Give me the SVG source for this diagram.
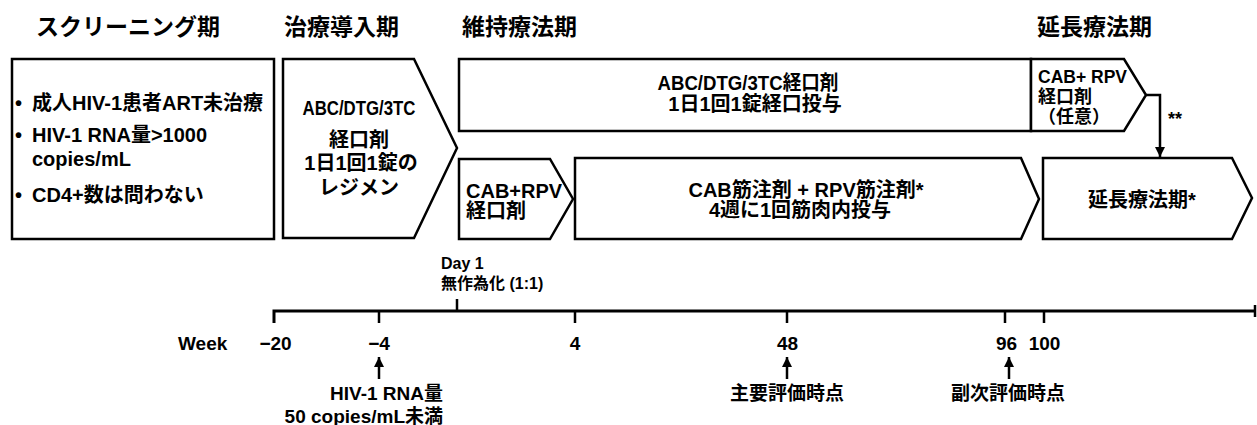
<svg xmlns="http://www.w3.org/2000/svg" width="1257" height="425" viewBox="0 0 1257 425">
<defs>
<style>
.box{fill:#fff;stroke:#000;stroke-width:2.5;stroke-linejoin:miter}
.t{font-family:"Liberation Sans","Noto Sans CJK JP",sans-serif;font-weight:bold;fill:#000}
.h{font-family:"Noto Sans CJK JP","Liberation Sans",sans-serif;font-weight:bold;font-size:23px;fill:#000}
.b20{font-size:20px}
.b18{font-size:18px}
.tl{font-size:19px}
.d{font-size:16px}
.ln{stroke:#000;stroke-width:3;fill:none}
.tk{stroke:#000;stroke-width:2.5;fill:none}
</style>
<marker id="ah" markerWidth="10" markerHeight="10" refX="10" refY="5" orient="auto" markerUnits="userSpaceOnUse" viewBox="0 0 10 10">
<path d="M0,0 L10,5 L0,10 Z" fill="#000"/>
</marker>
</defs>

<g id="headers">
<text class="h" x="36" y="35">スクリーニング期</text>
<text class="h" x="284" y="35">治療導入期</text>
<text class="h" x="462" y="35">維持療法期</text>
<text class="h" x="1037" y="35">延長療法期</text>
</g>

<g id="screening">
<rect class="box" x="12" y="59" width="262" height="180"/>
<text class="t b20" x="15" y="110">•</text>
<text class="t b20" x="32" y="110">成人HIV-1患者ART未治療</text>
<text class="t b20" x="15" y="142">•</text>
<text class="t b20" x="32" y="142">HIV-1 RNA量&gt;1000</text>
<text class="t b20" x="32" y="166">copies/mL</text>
<text class="t b20" x="15" y="202">•</text>
<text class="t b20" x="32" y="202">CD4+数は問わない</text>
</g>

<g id="induction">
<path class="box" d="M283,59 H414 L457,148 L414,238 H283 Z"/>
<text class="t b20" x="359" y="115" text-anchor="middle" textLength="113" lengthAdjust="spacingAndGlyphs">ABC/DTG/3TC</text>
<text class="t b20" x="359" y="147" text-anchor="middle">経口剤</text>
<text class="t b20" x="361" y="170" text-anchor="middle">1日1回1錠の</text>
<text class="t b20" x="359" y="195" text-anchor="middle">レジメン</text>
</g>

<g id="maintenance-oral">
<rect class="box" x="459" y="59" width="572" height="72"/>
<text class="t b20" x="748" y="90" text-anchor="middle" textLength="181" lengthAdjust="spacingAndGlyphs">ABC/DTG/3TC経口剤</text>
<text class="t b20" x="755" y="111" text-anchor="middle">1日1回1錠経口投与</text>
</g>

<g id="optional-oral">
<path class="box" d="M1031,59 H1124 L1146,95 L1124,131 H1031 Z"/>
<text class="t b18" x="1038" y="83" textLength="89" lengthAdjust="spacingAndGlyphs">CAB+ RPV</text>
<text class="t b18" x="1038" y="103">経口剤</text>
<text class="t b18" x="1038" y="123">（任意）</text>
</g>

<g id="oral-lead-in">
<path class="box" d="M459,159 H550 L573,199 L550,239 H459 Z"/>
<text class="t b20" x="466" y="198">CAB+RPV</text>
<text class="t b20" x="466" y="218">経口剤</text>
</g>

<g id="injection">
<path class="box" d="M575,158 H1021 L1039,199 L1021,239 H575 Z"/>
<text class="t b20" x="806" y="197" text-anchor="middle">CAB筋注剤 + RPV筋注剤*</text>
<text class="t b20" x="800" y="217" text-anchor="middle">4週に1回筋肉内投与</text>
</g>

<g id="extension">
<path class="box" d="M1043,158 H1232 L1252,198 L1232,239 H1043 Z"/>
<text class="t b20" x="1142" y="207" text-anchor="middle">延長療法期*</text>
</g>

<g id="connectors">
<path class="tk" d="M1146,95 H1160 V157" marker-end="url(#ah)"/>
<text class="t b18" x="1168" y="125">**</text>
</g>

<g id="timeline">
<path class="ln" d="M274,323 V311 H1256"/>
<path class="tk" d="M1255,305 V317"/>
<path class="tk" d="M379,311 V323 M575,311 V323 M787,311 V323 M1005,311 V323 M1044,311 V323 M457,311 V299"/>
<text class="t d" x="441" y="269">Day 1</text>
<text class="t d" x="441" y="289">無作為化 (1:1)</text>
<text class="t tl" x="178" y="350">Week</text>
<text class="t tl" x="275.5" y="350" text-anchor="middle">−20</text>
<text class="t tl" x="379" y="350" text-anchor="middle">−4</text>
<text class="t tl" x="575" y="350" text-anchor="middle">4</text>
<text class="t tl" x="787.5" y="350" text-anchor="middle">48</text>
<text class="t tl" x="1006.5" y="350" text-anchor="middle">96</text>
<text class="t tl" x="1044.5" y="350" text-anchor="middle">100</text>
<path class="tk" d="M379,379 V357" marker-end="url(#ah)"/>
<path class="tk" d="M787,379 V357" marker-end="url(#ah)"/>
<path class="tk" d="M1009,379 V357" marker-end="url(#ah)"/>
<text class="t tl" x="443" y="400" text-anchor="end">HIV-1 RNA量</text>
<text class="t tl" x="443" y="423" text-anchor="end">50 copies/mL未満</text>
<text class="t tl" x="787" y="400" text-anchor="middle">主要評価時点</text>
<text class="t tl" x="1008" y="400" text-anchor="middle">副次評価時点</text>
</g>
</svg>
